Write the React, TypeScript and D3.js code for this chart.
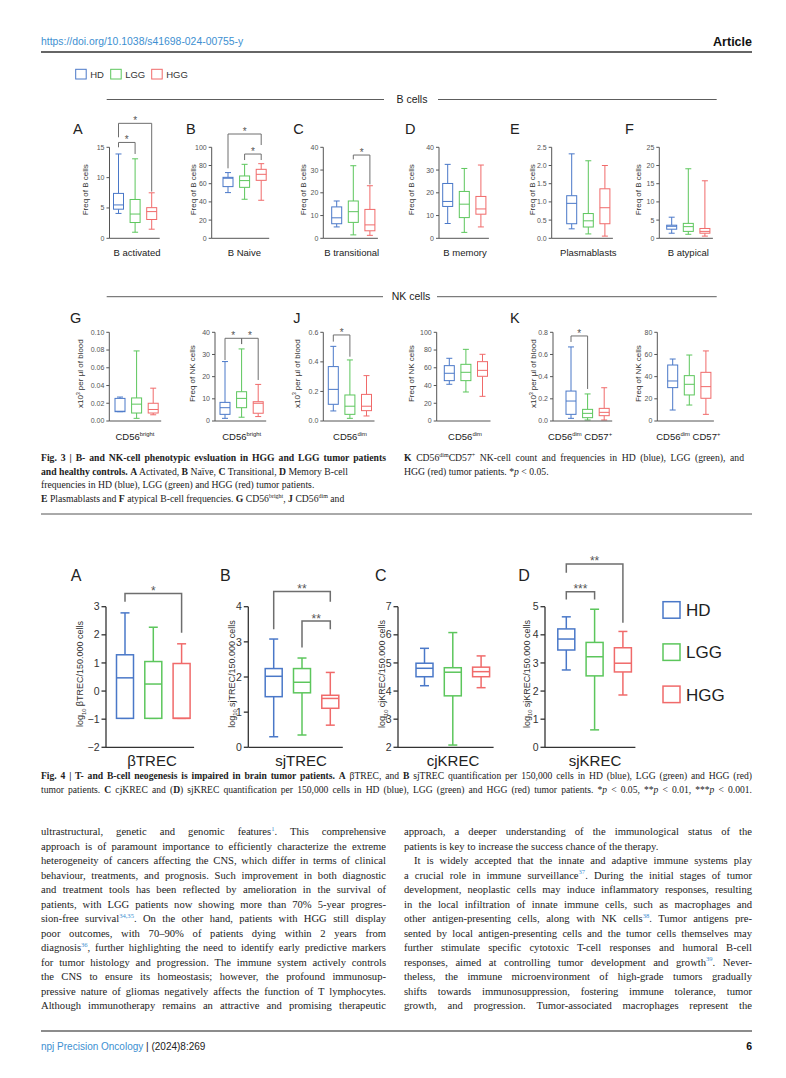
import React, { useLayoutEffect, useRef } from "react";
import * as d3 from "d3";

const groups = ["HD", "LGG", "HGG"];
const groupColors = ["#4a78c8", "#5cc65c", "#f06a6a"];
const refBlue = "#3d8fd1";
const sans = "'Liberation Sans', Arial, sans-serif";
const serif = "'Liberation Serif', 'Times New Roman', serif";

// box stats per group: [min, q1, median, q3, max]
const bActivated = [[4.1, 4.8, 5.5, 7.4, 13.9], [1.0, 2.6, 4.0, 6.4, 13.1], [1.5, 3.1, 4.4, 5.05, 7.5]];
const bNaive = [[50.2, 56.8, 66, 67, 72.2], [42.9, 56, 63.4, 68.5, 81.3], [41.8, 63.7, 70.3, 75.8, 82]];
const bTransitional = [[5.0, 6.4, 9.0, 13.8, 16.4], [1.5, 7.0, 11.7, 16.4, 31.9], [1.3, 3.3, 5.9, 12.7, 23.1]];
const bMemory = [[6.5, 14.0, 16.2, 24.1, 32.5], [2.6, 9.1, 15.0, 20.6, 30.7], [5.0, 10.6, 12.9, 18.4, 32.2]];
const plasmablasts = [[0.26, 0.4, 0.96, 1.17, 2.32], [0.12, 0.31, 0.48, 0.68, 2.13], [0.06, 0.4, 0.84, 1.36, 2.0]];
const bAtypical = [[1.4, 2.5, 3.3, 3.6, 5.8], [1.1, 1.9, 3.2, 4.1, 19.1], [0.6, 1.4, 1.9, 2.7, 15.8]];
const brightCount = [[0.0105, 0.0105, 0.011, 0.0255, 0.027], [0.003, 0.009, 0.019, 0.026, 0.079], [0.007, 0.009, 0.013, 0.02, 0.037]];
const brightFreq = [[1.2, 3.0, 6.0, 8.4, 26.8], [1.7, 6.0, 10.2, 13.2, 32.5], [2.0, 3.5, 8.0, 8.7, 16.5]];
const dimCount = [[0.068, 0.113, 0.214, 0.368, 0.505], [0.018, 0.045, 0.1, 0.176, 0.413], [0.034, 0.07, 0.1, 0.18, 0.307]];
const dimFreq = [[41.4, 45.5, 53.8, 62.4, 70.7], [32.7, 45.5, 54.9, 63.9, 80.8], [27.8, 50.4, 57.1, 66.9, 75.2]];
const cd57Count = [[0.024, 0.06, 0.18, 0.27, 0.668], [0.009, 0.03, 0.069, 0.105, 0.244], [0.009, 0.048, 0.078, 0.114, 0.3]];
const cd57Freq = [[9.9, 30.1, 36.1, 50.5, 55.9], [14.4, 23.5, 33.1, 40.9, 59.5], [6.0, 20.5, 31, 43.9, 63.2]];
const bTrec = [[-0.97, -0.97, 0.47, 1.29, 2.78], [-0.97, -0.97, 0.25, 1.05, 2.27], [-0.97, -0.97, -0.97, 0.98, 1.68]];
const sjTrec = [[0.3, 1.44, 2.02, 2.24, 3.08], [0.35, 1.55, 1.85, 2.24, 2.54], [0.63, 1.11, 1.39, 1.48, 2.13]];
const cjKrec = [[4.19, 4.51, 4.81, 4.99, 5.52], [2.08, 3.83, 4.67, 4.83, 6.08], [4.12, 4.51, 4.69, 4.85, 5.25]];
const sjKrec = [[2.75, 3.46, 3.85, 4.21, 4.64], [0.62, 2.54, 3.22, 3.73, 4.91], [1.86, 2.68, 2.99, 3.54, 4.12]];

// tick values
const ticks0to15 = [0, 5, 10, 15];
const ticks0to100 = [0, 20, 40, 60, 80, 100];
const ticks0to40 = [0, 10, 20, 30, 40];
const ticks0to25h = [0, 0.5, 1.0, 1.5, 2.0, 2.5];
const ticks0to25 = [0, 5, 10, 15, 20, 25];
const ticks0to010 = [0, 0.02, 0.04, 0.06, 0.08, 0.1];
const ticks0to06 = [0, 0.2, 0.4, 0.6];
const ticks0to08 = [0, 0.2, 0.4, 0.6, 0.8];
const ticks0to80 = [0, 20, 40, 60, 80];
const ticksM2to3 = [-2, -1, 0, 1, 2, 3];
const ticks0to4 = [0, 1, 2, 3, 4];
const ticks2to7 = [2, 3, 4, 5, 6, 7];
const ticks0to5 = [0, 1, 2, 3, 4, 5];

// significance brackets (data units): from group, to group, bar level, leg ends
const sigActivated = [
  { a: 0, b: 1, level: 15.8, ea: 15.0, eb: 13.9, mark: "*" },
  { a: 0, b: 2, level: 18.95, ea: 16.65, eb: 7.7, mark: "*" },
];
const sigNaive = [
  { a: 0, b: 2, level: 114.6, ea: 76.9, eb: 102.5, mark: "*" },
  { a: 1, b: 2, level: 92.6, ea: 86, eb: 86, mark: "*" },
];
const sigTransitional = [{ a: 1, b: 2, level: 36.6, ea: 34.7, eb: 23.7, mark: "*" }];
const sigBrightFreq = [
  { a: 0, b: 1, level: 37.3, ea: 27.5, eb: 34.7, mark: "*" },
  { a: 1, b: 2, level: 37.3, ea: 34.7, eb: 18.5, mark: "*" },
];
const sigDimCount = [{ a: 0, b: 1, level: 0.582, ea: 0.537, eb: 0.435, mark: "*" }];
const sigCd57Count = [{ a: 0, b: 1, level: 0.767, ea: 0.713, eb: 0.289, mark: "*" }];
const sigBTrec = [{ a: 0, b: 2, level: 3.47, ea: 3.18, eb: 2.07, mark: "*" }];
const sigSjTrec = [
  { a: 0, b: 2, level: 4.43, ea: 3.36, eb: 4.14, mark: "**" },
  { a: 1, b: 2, level: 3.59, ea: 2.84, eb: 3.36, mark: "**" },
];
const sigSjKrec = [
  { a: 0, b: 2, level: 6.52, ea: 6.21, eb: 4.43, mark: "**" },
  { a: 0, b: 1, level: 5.53, ea: 5.26, eb: 5.26, mark: "***" },
];

const fmt0 = d3.format("d");
const fmt1 = d3.format(".1f");
const fmt2 = d3.format(".2f");

const cd56 = (s) => ["CD56", { t: s, sup: true }];

const fig3Style = { boxW: 10, capW: 6, boxSW: 1, axisSW: 1, tickLen: 3, tickFs: 7, step: 16.6, starFs: 10, starDy: 1, axisColor: "#555", tickColor: "#555", titleFs: 8, labelFs: 9.5, pad: 3 };
const fig4Style = { boxW: 17, capW: 9, boxSW: 1.5, axisSW: 1.3, tickLen: 4.5, tickFs: 10.5, step: 28.3, starFs: 12, starDy: 1.5, axisColor: "#333", tickColor: "#333", titleFs: 9, labelFs: 15, pad: 4 };

const row1 = { top: 147.3, bottom: 238.3, labelY: 256 };
const row2 = { top: 332.3, bottom: 421, labelY: 440 };
const row4 = { top: 606.7, bottom: 747.3, labelY: 766 };

const bTitle = ["Freq of B cells"];
const nkTitle = ["Freq of NK cells"];
const countTitle = ["x10", { t: "3", sup: true }, " per µl of blood"];
const logTitle = (s) => ["log", { t: "10", sub: true }, ` ${s}/150.000 cells`];

const fig3Panels = [
  { row: row1, stats: bActivated, domain: [0, 15], ticks: ticks0to15, fmt: fmt0, axisX: 109.5, c0: 118.5, title: bTitle, titleX: 85, label: ["B activated"], labelX: 137, sig: sigActivated },
  { row: row1, stats: bNaive, domain: [0, 100], ticks: ticks0to100, fmt: fmt0, axisX: 211.7, c0: 228, title: bTitle, titleX: 193.3, label: ["B Naive"], labelX: 244.3, sig: sigNaive },
  { row: row1, stats: bTransitional, domain: [0, 40], ticks: ticks0to40, fmt: fmt0, axisX: 323.3, c0: 336.7, title: bTitle, titleX: 303.3, label: ["B transitional"], labelX: 351.7, sig: sigTransitional },
  { row: row1, stats: bMemory, domain: [0, 40], ticks: ticks0to40, fmt: fmt0, axisX: 439, c0: 447.7, title: bTitle, titleX: 411, label: ["B memory"], labelX: 465, sig: [] },
  { row: row1, stats: plasmablasts, domain: [0, 2.5], ticks: ticks0to25h, fmt: fmt1, axisX: 551.7, c0: 571.7, title: bTitle, titleX: 531.7, label: ["Plasmablasts"], labelX: 588.3, sig: [] },
  { row: row1, stats: bAtypical, domain: [0, 25], ticks: ticks0to25, fmt: fmt0, axisX: 659.3, c0: 671.7, title: bTitle, titleX: 638.3, label: ["B atypical"], labelX: 688.3, sig: [] },
  { row: row2, stats: brightCount, domain: [0, 0.1], ticks: ticks0to010, fmt: fmt2, axisX: 109.3, c0: 120, title: countTitle, titleX: 80, label: cd56("bright"), labelX: 135, sig: [] },
  { row: row2, stats: brightFreq, domain: [0, 40], ticks: ticks0to40, fmt: fmt0, axisX: 215, c0: 225, title: nkTitle, titleX: 191.7, label: cd56("bright"), labelX: 241.7, sig: sigBrightFreq },
  { row: row2, stats: dimCount, domain: [0, 0.6], ticks: ticks0to06, fmt: fmt1, axisX: 323.3, c0: 333.3, title: countTitle, titleX: 296.7, label: cd56("dim"), labelX: 350, sig: sigDimCount },
  { row: row2, stats: dimFreq, domain: [0, 100], ticks: ticks0to100, fmt: fmt0, axisX: 436.7, c0: 449.3, title: nkTitle, titleX: 411, label: cd56("dim"), labelX: 465, sig: [] },
  { row: row2, stats: cd57Count, domain: [0, 0.8], ticks: ticks0to08, fmt: fmt1, axisX: 553, c0: 571, title: countTitle, titleX: 533.3, label: [...cd56("dim"), " CD57", { t: "+", sup: true }], labelX: 580, sig: sigCd57Count },
  { row: row2, stats: cd57Freq, domain: [0, 80], ticks: ticks0to80, fmt: fmt0, axisX: 657.3, c0: 672.7, title: nkTitle, titleX: 638.3, label: [...cd56("dim"), " CD57", { t: "+", sup: true }], labelX: 688.3, sig: [] },
];

const fig4Panels = [
  { row: row4, stats: bTrec, domain: [-2, 3], ticks: ticksM2to3, fmt: fmt0, axisX: 106, c0: 125, title: logTitle("βTREC"), titleX: 80, label: ["βTREC"], labelX: 152, sig: sigBTrec },
  { row: row4, stats: sjTrec, domain: [0, 4], ticks: ticks0to4, fmt: fmt0, axisX: 248.3, c0: 273.7, title: logTitle("sjTREC"), titleX: 231.7, label: ["sjTREC"], labelX: 301, sig: sigSjTrec },
  { row: row4, stats: cjKrec, domain: [2, 7], ticks: ticks2to7, fmt: fmt0, axisX: 398, c0: 424.5, title: logTitle("cjKREC"), titleX: 382, label: ["cjKREC"], labelX: 453, sig: [] },
  { row: row4, stats: sjKrec, domain: [0, 5], ticks: ticks0to5, fmt: fmt0, axisX: 545, c0: 566.3, title: logTitle("sjKREC"), titleX: 526.7, label: ["sjKREC"], labelX: 595, sig: sigSjKrec },
];

const fig3Letters = [
  ["A", 73, 134], ["B", 186, 134], ["C", 293.3, 134], ["D", 405, 134], ["E", 510, 134], ["F", 625, 134],
  ["G", 70, 323], ["J", 293.3, 323], ["K", 510, 323],
];
const fig4Letters = [["A", 70.7, 581], ["B", 220, 581], ["C", 375, 581], ["D", 518.3, 581]];

const fig3CaptionLeft = [
  [{ t: "Fig. 3 | B- and NK-cell phenotypic evsluation in HGG and LGG tumor patients", b: true }],
  [{ t: "and healthy controls.", b: true }, " ", { t: "A", b: true }, " Activated, ", { t: "B", b: true }, " Naïve, ", { t: "C", b: true }, " Transitional, ", { t: "D", b: true }, " Memory B-cell"],
  ["frequencies in HD (blue), LGG (green) and HGG (red) tumor patients."],
  [{ t: "E", b: true }, " Plasmablasts and ", { t: "F", b: true }, " atypical B-cell frequencies. ", { t: "G", b: true }, " CD56", { t: "bright", sup: true }, ", ", { t: "J", b: true }, " CD56", { t: "dim", sup: true }, " and"],
];
const fig3CaptionRight = [
  [{ t: "K", b: true }, " CD56", { t: "dim", sup: true }, "CD57", { t: "+", sup: true }, " NK-cell count and frequencies in HD (blue), LGG (green), and"],
  ["HGG (red) tumor patients. *", { t: "p", i: true }, " < 0.05."],
];
const fig4Caption = [
  [{ t: "Fig. 4 | T- and B-cell neogenesis is impaired in brain tumor patients.", b: true }, " ", { t: "A", b: true }, " βTREC, and ", { t: "B", b: true }, " sjTREC quantification per 150,000 cells in HD (blue), LGG (green) and HGG (red)"],
  ["tumor patients. ", { t: "C", b: true }, " cjKREC and (", { t: "D", b: true }, ") sjKREC quantification per 150,000 cells in HD (blue), LGG (green) and HGG (red) tumor patients. *", { t: "p", i: true }, " < 0.05, **", { t: "p", i: true }, " < 0.01, ***", { t: "p", i: true }, " < 0.001."],
];

const bodyLeft = [
  ["ultrastructural, genetic and genomic features", { t: "1", ref: true }, ". This comprehensive"],
  ["approach is of paramount importance to efficiently characterize the extreme"],
  ["heterogeneity of cancers affecting the CNS, which differ in terms of clinical"],
  ["behaviour, treatments, and prognosis. Such improvement in both diagnostic"],
  ["and treatment tools has been reflected by amelioration in the survival of"],
  ["patients, with LGG patients now showing more than 70% 5-year progres-"],
  ["sion-free survival", { t: "34,35", ref: true }, ". On the other hand, patients with HGG still display"],
  ["poor outcomes, with 70–90% of patients dying within 2 years from"],
  ["diagnosis", { t: "36", ref: true }, ", further highlighting the need to identify early predictive markers"],
  ["for tumor histology and progression. The immune system actively controls"],
  ["the CNS to ensure its homeostasis; however, the profound immunosup-"],
  ["pressive nature of gliomas negatively affects the function of T lymphocytes."],
  ["Although immunotherapy remains an attractive and promising therapeutic"],
];
const bodyRight = [
  ["approach, a deeper understanding of the immunological status of the"],
  ["patients is key to increase the success chance of the therapy."],
  ["It is widely accepted that the innate and adaptive immune systems play"],
  ["a crucial role in immune surveillance", { t: "37", ref: true }, ". During the initial stages of tumor"],
  ["development, neoplastic cells may induce inflammatory responses, resulting"],
  ["in the local infiltration of innate immune cells, such as macrophages and"],
  ["other antigen-presenting cells, along with NK cells", { t: "38", ref: true }, ". Tumor antigens pre-"],
  ["sented by local antigen-presenting cells and the tumor cells themselves may"],
  ["further stimulate specific cytotoxic T-cell responses and humoral B-cell"],
  ["responses, aimed at controlling tumor development and growth", { t: "39", ref: true }, ". Never-"],
  ["theless, the immune microenvironment of high-grade tumors gradually"],
  ["shifts towards immunosuppression, fostering immune tolerance, tumor"],
  ["growth, and progression. Tumor-associated macrophages represent the"],
];

// justified lines carry data-w; word spacing is fitted after layout
function Line({ x, y, segs, fs, width = undefined, anchor = "start", family = serif, fill = "#222", weight = undefined, transform = undefined }) {
  let shift = 0;
  const kids = segs.map((s, k) => {
    const o = typeof s === "string" ? { t: s } : s;
    const small = o.sup || o.ref || o.sub;
    const target = o.sup || o.ref ? -fs * 0.38 : o.sub ? fs * 0.28 : 0;
    const dy = target - shift;
    shift = target;
    return (
      <tspan key={k} dy={dy ? dy : undefined} fontWeight={o.b ? "bold" : undefined} fontStyle={o.i ? "italic" : undefined} fontSize={small ? fs * 0.62 : undefined} fill={o.ref ? refBlue : undefined}>
        {o.t}
      </tspan>
    );
  });
  return (
    <text x={x} y={y} fontSize={fs} fontFamily={family} fill={fill} fontWeight={weight} textAnchor={anchor} data-w={width} transform={transform} style={{ whiteSpace: "pre" }}>
      {kids}
    </text>
  );
}

function Panel({ p, st }) {
  const { top, bottom, labelY } = p.row;
  const y = d3.scaleLinear().domain(p.domain).range([bottom, top]);
  const x = d3.scalePoint().domain(groups).range([p.c0, p.c0 + 2 * st.step]);
  const xEnd = p.c0 + 2 * st.step + st.boxW / 2 + st.pad;
  const cy = (top + bottom) / 2 - 3;
  return (
    <g>
      {p.stats.map((s, i) => {
        const cx = x(groups[i]);
        const [mn, q1, md, q3, mx] = s;
        return (
          <g key={i} stroke={groupColors[i]} strokeWidth={st.boxSW} fill="none">
            <line x1={cx} x2={cx} y1={y(mx)} y2={y(q3)} />
            <line x1={cx} x2={cx} y1={y(q1)} y2={y(mn)} />
            <line x1={cx - st.capW / 2} x2={cx + st.capW / 2} y1={y(mx)} y2={y(mx)} />
            <line x1={cx - st.capW / 2} x2={cx + st.capW / 2} y1={y(mn)} y2={y(mn)} />
            <rect x={cx - st.boxW / 2} y={y(q3)} width={st.boxW} height={Math.max(0.5, y(q1) - y(q3))} fill="#fff" />
            <line x1={cx - st.boxW / 2} x2={cx + st.boxW / 2} y1={y(md)} y2={y(md)} />
          </g>
        );
      })}
      <g stroke={st.axisColor} strokeWidth={st.axisSW} fill="none">
        <line x1={p.axisX} x2={p.axisX} y1={y(p.domain[1])} y2={y(p.domain[0])} />
        <line x1={p.axisX} x2={xEnd} y1={bottom} y2={bottom} />
        {p.ticks.map((t) => (
          <line key={t} x1={p.axisX - st.tickLen} x2={p.axisX} y1={y(t)} y2={y(t)} />
        ))}
      </g>
      {p.ticks.map((t) => (
        <text key={t} x={p.axisX - st.tickLen - 2} y={y(t)} dy="0.35em" textAnchor="end" fontSize={st.tickFs} fontFamily={sans} fill={st.tickColor}>
          {p.fmt(t)}
        </text>
      ))}
      {p.sig.map((s, k) => {
        const xa = x(groups[s.a]);
        const xb = x(groups[s.b]);
        return (
          <g key={k}>
            <path d={`M${xa},${y(s.ea)}V${y(s.level)}H${xb}V${y(s.eb)}`} fill="none" stroke="#6e6e6e" strokeWidth={st.boxSW} />
            <text x={(xa + xb) / 2} y={y(s.level) + st.starDy} textAnchor="middle" fontSize={st.starFs} fontFamily={sans} fill="#555">
              {s.mark}
            </text>
          </g>
        );
      })}
      <Line x={0} y={0} segs={p.title} fs={st.titleFs} family={sans} fill="#333" anchor="middle" transform={`translate(${p.titleX + st.titleFs * 0.35},${cy}) rotate(-90)`} />
      <Line x={p.labelX} y={labelY} segs={p.label} fs={st.labelFs} family={sans} fill="#222" anchor="middle" />
    </g>
  );
}

function Separator({ y, label, cx }) {
  return (
    <g>
      <line x1={106.7} x2={cx - 30} y1={y} y2={y} stroke="#333" strokeWidth={0.8} />
      <line x1={cx + 24} x2={716.7} y1={y} y2={y} stroke="#333" strokeWidth={0.8} />
      <text x={cx - 2} y={y} dy="0.35em" textAnchor="middle" fontSize={10.5} fontFamily={sans} fill="#222">
        {label}
      </text>
    </g>
  );
}

export default function App() {
  const svgRef = useRef(null);
  const bodyTop = 835;
  const bodyStep = 14.5;
  const capTop = 461;
  const capStep = 13.6;

  useLayoutEffect(() => {
    const svg = svgRef.current;
    if (!svg) return;
    svg.querySelectorAll("text[data-w]").forEach((el) => {
      const target = +el.getAttribute("data-w");
      const natural = el.getComputedTextLength();
      const spaces = (el.textContent.match(/ /g) || []).length;
      if (spaces > 0) el.setAttribute("word-spacing", String((target - natural) / spaces));
    });
  }, []);

  return (
    <svg ref={svgRef} width={786} height={1078} viewBox="0 0 786 1078" style={{ position: "absolute", left: 0, top: 0, background: "#fff" }}>
      <rect width={786} height={1078} fill="#fff" />
      {/* page header */}
      <text x={41} y={44.5} fontSize={10.4} fontFamily={sans} fill={refBlue}>https://doi.org/10.1038/s41698-024-00755-y</text>
      <text x={752} y={46} textAnchor="end" fontSize={12.5} fontWeight="bold" fontFamily={sans} fill="#111">Article</text>
      <line x1={41} x2={752} y1={52} y2={52} stroke="#666" strokeWidth={1.8} />

      {/* Fig. 3 legend */}
      {groups.map((g, i) => (
        <g key={g}>
          <rect x={[75.7, 110.7, 151.7][i]} y={69.3} width={10.5} height={9.7} fill="none" stroke={groupColors[i]} strokeWidth={1} />
          <text x={[75.7, 110.7, 151.7][i] + 14.5} y={74.3} dy="0.35em" fontSize={9.5} fontFamily={sans} fill="#333">{g}</text>
        </g>
      ))}
      <Separator y={99.5} label="B cells" cx={414} />
      <Separator y={296.7} label="NK cells" cx={413} />

      {fig3Letters.map(([l, lx, ly]) => (
        <text key={l} x={lx} y={ly} fontSize={14.5} fontFamily={sans} fill="#222">{l}</text>
      ))}
      {fig3Panels.map((p, i) => (
        <Panel key={i} p={p} st={fig3Style} />
      ))}

      {/* Fig. 3 caption */}
      {fig3CaptionLeft.map((segs, i) => (
        <Line key={i} x={41} y={capTop + i * capStep} segs={segs} fs={9.7} width={i === 0 ? 345 : undefined} />
      ))}
      {fig3CaptionRight.map((segs, i) => (
        <Line key={i} x={404} y={capTop + i * capStep} segs={segs} fs={9.7} width={i === 0 ? 340 : undefined} />
      ))}
      <line x1={41} x2={752} y1={514} y2={514} stroke="#555" strokeWidth={1} />

      {/* Fig. 4 */}
      {fig4Letters.map(([l, lx, ly]) => (
        <text key={l} x={lx} y={ly} fontSize={16} fontFamily={sans} fill="#222">{l}</text>
      ))}
      {fig4Panels.map((p, i) => (
        <Panel key={i} p={p} st={fig4Style} />
      ))}
      {groups.map((g, i) => (
        <g key={g}>
          <rect x={663} y={601.7 + i * 42.2} width={17} height={16.5} fill="none" stroke={groupColors[i]} strokeWidth={1.5} />
          <text x={686} y={601.7 + i * 42.2 + 8.3} dy="0.36em" fontSize={17} fontFamily={sans} fill="#222">{g}</text>
        </g>
      ))}
      {fig4Caption.map((segs, i) => (
        <Line key={i} x={41} y={779 + i * 14} segs={segs} fs={9.6} width={711} />
      ))}

      {/* body text */}
      {bodyLeft.map((segs, i) => (
        <Line key={i} x={41} y={bodyTop + i * bodyStep} segs={segs} fs={10.6} width={345} />
      ))}
      {bodyRight.map((segs, i) => (
        <Line key={i} x={i === 2 ? 414 : 404} y={bodyTop + i * bodyStep} segs={segs} fs={10.6} width={i === 1 ? undefined : i === 2 ? 338 : 348} />
      ))}

      {/* footer */}
      <line x1={41} x2={752} y1={1031} y2={1031} stroke="#666" strokeWidth={1.5} />
      <text x={41} y={1050} fontSize={10} fontFamily={sans} fill="#222">
        <tspan fill={refBlue}>npj Precision Oncology</tspan>
        <tspan> | (2024)8:269</tspan>
      </text>
      <text x={752} y={1050} textAnchor="end" fontSize={10.5} fontWeight="bold" fontFamily={sans} fill="#111">6</text>
    </svg>
  );
}
